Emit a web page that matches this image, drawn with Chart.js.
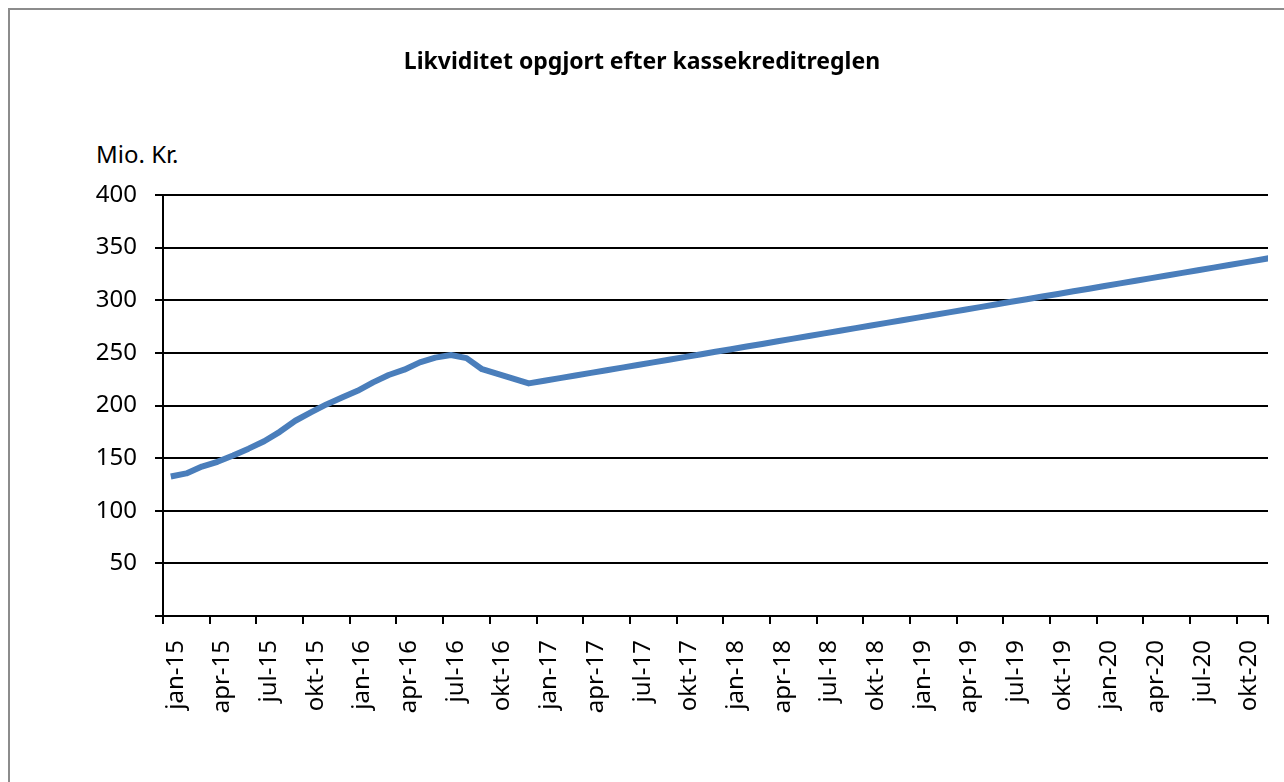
<!DOCTYPE html>
<html lang="da">
<head>
<meta charset="utf-8">
<title>Likviditet opgjort efter kassekreditreglen</title>
<script src="https://cdn.jsdelivr.net/npm/chart.js@4/dist/chart.umd.min.js"></script>
<style>
    html, body { margin: 0; padding: 0; background: #fff; }
    #wrap { position: relative; width: 1284px; height: 782px; overflow: hidden; }
    #frame { position: absolute; left: 8px; top: 8px; width: 1400px; height: 900px;
             border-left: 2px solid #8c8c8c; border-top: 2px solid #8c8c8c; }
    #unit { position: absolute; left: 96px; top: 137px; font: 24px "Noto Sans", sans-serif; color: #000; }
    canvas { position: absolute; left: 0; top: 0; }
</style>
</head>
<body>
<div id="wrap">
    <div id="frame"></div>
    <div id="unit">Mio. Kr.</div>
    <canvas id="likviditetChart" width="1284" height="782"></canvas>
</div>
<script>
// Måneder og år til x-aksen
const monthNames = ['jan', 'feb', 'mar', 'apr', 'maj', 'jun', 'jul', 'aug', 'sep', 'okt', 'nov', 'dec'];
const years = ['15', '16', '17', '18', '19', '20'];

// Likviditet, mio. kr. (jan-15 .. dec-20)
const likviditet = [
    132.5, 135.5, 142, 146.5, 152.5, 159, 166, 175, 185.5, 193.5, 201, 207.5,
    214, 222, 229, 234, 241, 245.5, 248, 245, 234.5, 230, 225.5, 221,
    223.5, 226, 228.5, 231, 233.5, 236, 238.5, 241, 243.5, 246, 248.5, 251,
    253.5, 256, 258.5, 261, 263.5, 266, 268.5, 271, 273.5, 276, 278.5, 281,
    283.5, 286, 288.5, 291, 293.5, 296, 298.5, 301, 303.5, 306, 308.5, 311,
    313.5, 316, 318.5, 321, 323.5, 326, 328.5, 331, 333.5, 336, 338.5, 341
];

// Y-akse
const yTicks = [0, 50, 100, 150, 200, 250, 300, 350, 400];

const labels = [];
years.forEach(y => {
    monthNames.forEach(m => labels.push(m + '-' + y));
});

const ctx = document.getElementById('likviditetChart').getContext('2d');
const likviditetChart = new Chart(ctx, {
    type: 'line',
    data: {
        labels: labels,
        datasets: [{
            label: 'Likviditet',
            data: likviditet,
            borderColor: '#4a7ebb',
            borderWidth: 6,
            pointRadius: 0,
            tension: 0,
            borderJoinStyle: 'round',
            clip: { left: 5, top: 5, right: 0, bottom: 5 }
        }]
    },
    options: {
        responsive: false,
        animation: false,
        layout: { padding: { top: 0, right: 16, bottom: 0, left: 16 } },
        plugins: {
            legend: { display: false },
            tooltip: { enabled: false },
            title: {
                display: true,
                text: 'Likviditet opgjort efter kassekreditreglen',
                color: '#000',
                font: { family: 'Noto Sans', size: 23, weight: 'bold' },
                padding: { top: 49, bottom: 118.4 }
            }
        },
        scales: {
            x: {
                type: 'category',
                offset: true,
                // aksen slutter ved nov-20, dec-20 klippes af plotområdet
                afterDataLimits: scale => { scale.max = 70; },
                grid: {
                    offset: true,
                    drawOnChartArea: false,
                    tickLength: 8,
                    lineWidth: 2,
                    color: c => (c.index % 3 === 0 || !c.tick) ? '#000' : 'rgba(0,0,0,0)'
                },
                border: { color: '#000', width: 2 },
                ticks: {
                    autoSkip: false,
                    maxRotation: 90,
                    minRotation: 90,
                    padding: 16,
                    labelOffset: 5,
                    color: '#000',
                    font: { family: 'Noto Sans', size: 24 },
                    callback: function (value, index) {
                        return index % 3 === 0 ? this.getLabelForValue(value) : '';
                    }
                },
                afterFit: scale => {
                    scale.height = 166;
                    scale.paddingLeft = 0;
                    scale.paddingRight = 0;
                }
            },
            y: {
                min: 0,
                max: 400,
                afterBuildTicks: scale => { scale.ticks = yTicks.map(v => ({ value: v })); },
                grid: { color: '#000', lineWidth: 2, tickLength: 8 },
                border: { color: '#000', width: 2 },
                ticks: {
                    padding: 18,
                    color: '#000',
                    font: { family: 'Noto Sans', size: 24 },
                    callback: v => v === 0 ? '' : v
                },
                afterFit: scale => { scale.width = 147; }
            }
        }
    }
});
</script>
</body>
</html>
